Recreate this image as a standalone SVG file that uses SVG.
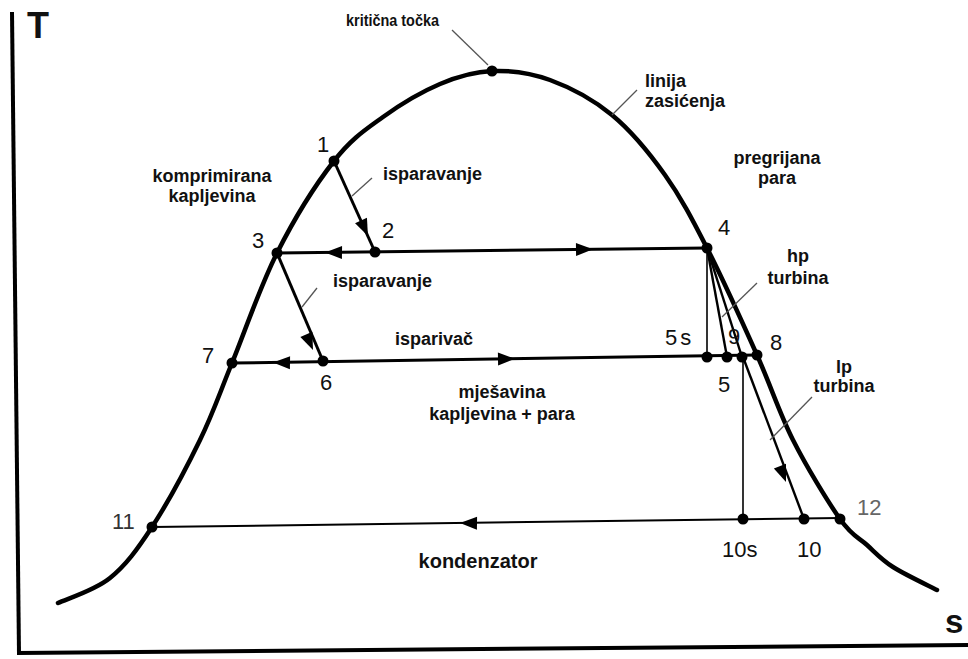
<svg xmlns="http://www.w3.org/2000/svg" width="968" height="659" viewBox="0 0 968 659">
<style>
.lbl{font-family:"Liberation Sans",Arial,sans-serif;font-weight:bold;font-size:18px;fill:#111}
.num{font-family:"Liberation Sans",Arial,sans-serif;font-size:22px;fill:#111}
.ax{font-family:"Liberation Sans",Arial,sans-serif;font-weight:bold;fill:#111}
.sat{fill:none;stroke:#000;stroke-width:4.5;stroke-linecap:round;stroke-linejoin:round}
.proc{fill:none;stroke:#000;stroke-width:3}
.exp{fill:none;stroke:#000;stroke-width:2.4}
.thin{fill:none;stroke:#000;stroke-width:1.6}
.lead{fill:none;stroke:#555;stroke-width:1.3}
.dot{fill:#000}
</style>
<defs>
<path id="arr" d="M0,0 L-17,-6.5 L-17,6.5 Z" fill="#000"/>
</defs>
<rect width="968" height="659" fill="#fff"/>
<g id="axes">
<path d="M12,12 L19,654" fill="none" stroke="#000" stroke-width="4"/>
<path d="M17,653 L968,645" fill="none" stroke="#000" stroke-width="4"/>
<text class="ax" x="27" y="38" style="font-size:36px">T</text>
<text class="ax" x="945" y="633" style="font-size:33px">s</text>
</g>
<g id="saturation-line">
<path class="sat" d="M58,603 C66.7,598.8 94.3,590.7 110,578 C125.7,565.3 137,550 152,527 C167,504 186.7,467.3 200,440 C213.3,412.7 219.2,394.2 232,363 C244.8,331.8 260,286.7 277,253 C294,219.3 316.3,183.7 334,161 C351.7,138.3 365.3,129.8 383,117 C400.7,104.2 421.8,91.7 440,84 C458.2,76.3 473.7,71.7 492,71 C510.3,70.3 530,72.7 550,80 C570,87.3 592.8,99.2 612,115 C631.2,130.8 649.2,152.8 665,175 C680.8,197.2 691.7,218 707,248 C722.3,278 742.7,323 757,355 C771.3,387 779.2,412.7 793,440 C806.8,467.3 827.7,501.5 840,519 C852.3,536.5 858.2,537 867,545 C875.8,553 881.3,559.5 893,567 C904.7,574.5 929.7,586.2 937,590"/>
</g>
<g id="connectors">
<path class="proc" d="M334,161 L375,252"/>
<path class="proc" d="M277,253 L707,248"/>
<path class="proc" d="M277,253 L323,361"/>
<path class="proc" d="M232,363 L757,355"/>
<path class="exp" d="M707,248 L727,357"/>
<path class="exp" d="M707,248 L742,357"/>
<path class="exp" d="M743,357 L804,519"/>
<path class="thin" d="M707,248 L707,357"/>
<path class="thin" d="M743,357 L743,519"/>
<path fill="none" stroke="#000" stroke-width="2" d="M152,527 L840,518"/>
<use href="#arr" transform="translate(368,236) rotate(65.7)"/>
<use href="#arr" transform="translate(313,350) rotate(66.9)"/>
<use href="#arr" transform="translate(325,252.4) rotate(180.7)"/>
<use href="#arr" transform="translate(593,249.3) rotate(-0.7)"/>
<use href="#arr" transform="translate(273,362.4) rotate(180.9)"/>
<use href="#arr" transform="translate(515,358.7) rotate(-0.9)"/>
<use href="#arr" transform="translate(460,523) rotate(180.7)"/>
<use href="#arr" transform="translate(786,482) rotate(69.1)"/>
<path class="lead" d="M452,30 L488,65"/>
<path class="lead" d="M612,115 L637,90"/>
<path class="lead" d="M372,178 L352,196"/>
<path class="lead" d="M317,288 L302,307"/>
<path class="lead" d="M757,283 L722,317"/>
<path class="lead" d="M812,397 L770,440"/>
</g>
<g id="critical-point">
<circle class="dot" cx="492" cy="71" r="5.5"/>
<text class="lbl" x="346" y="26" textLength="93" lengthAdjust="spacingAndGlyphs" style="font-size:17px">kritična točka</text>
</g>
<g id="label-saturation">
<text class="lbl" x="645" y="87">linija</text>
<text class="lbl" x="645" y="107">zasićenja</text>
</g>
<g id="label-compressed">
<text class="lbl" x="212" y="182" text-anchor="middle">komprimirana</text>
<text class="lbl" x="212" y="202" text-anchor="middle">kapljevina</text>
</g>
<g id="label-superheated">
<text class="lbl" x="777" y="164" text-anchor="middle">pregrijana</text>
<text class="lbl" x="777" y="184" text-anchor="middle">para</text>
</g>
<g id="label-evap1"><text class="lbl" x="383" y="180">isparavanje</text></g>
<g id="label-evap2"><text class="lbl" x="333" y="287">isparavanje</text></g>
<g id="label-hp">
<text class="lbl" x="798" y="262" text-anchor="middle">hp</text>
<text class="lbl" x="798" y="284" text-anchor="middle">turbina</text>
</g>
<g id="label-lp">
<text class="lbl" x="844" y="373" text-anchor="middle">lp</text>
<text class="lbl" x="844" y="392" text-anchor="middle">turbina</text>
</g>
<g id="label-isparivac"><text class="lbl" x="395" y="345">isparivač</text></g>
<g id="label-mixture">
<text class="lbl" x="502" y="398" text-anchor="middle">mješavina</text>
<text class="lbl" x="502" y="420" text-anchor="middle">kapljevina + para</text>
</g>
<g id="label-condenser"><text class="lbl" x="478" y="568" text-anchor="middle" style="font-size:20px">kondenzator</text></g>
<g id="p1"><circle class="dot" cx="334" cy="161" r="5.5"/><text class="num" x="317" y="152">1</text></g>
<g id="p2"><circle class="dot" cx="375" cy="252" r="5.5"/><text class="num" x="382" y="238">2</text></g>
<g id="p3"><circle class="dot" cx="277" cy="253" r="5.5"/><text class="num" x="252" y="248">3</text></g>
<g id="p4"><circle class="dot" cx="707" cy="248" r="5.5"/><text class="num" x="718" y="235">4</text></g>
<g id="p5s"><circle class="dot" cx="707" cy="357" r="5.5"/><text class="num" x="665" y="345" letter-spacing="3">5s</text></g>
<g id="p5"><circle class="dot" cx="727" cy="357" r="5.5"/><text class="num" x="718" y="392">5</text></g>
<g id="p9"><circle class="dot" cx="742" cy="357" r="5.5"/><text class="num" x="728" y="344">9</text></g>
<g id="p8"><circle class="dot" cx="757" cy="355" r="5.5"/><text class="num" x="770" y="350">8</text></g>
<g id="p6"><circle class="dot" cx="323" cy="361" r="5.5"/><text class="num" x="320" y="390">6</text></g>
<g id="p7"><circle class="dot" cx="232" cy="363" r="5.5"/><text class="num" x="202" y="363">7</text></g>
<g id="p10s"><circle class="dot" cx="743" cy="519" r="5.5"/><text class="num" x="722" y="557">10s</text></g>
<g id="p10"><circle class="dot" cx="804" cy="519" r="5.5"/><text class="num" x="797" y="557">10</text></g>
<g id="p11"><circle class="dot" cx="152" cy="527" r="5.5"/><text class="num" x="112" y="529" style="fill:#333">11</text></g>
<g id="p12"><circle class="dot" cx="840" cy="519" r="5.5"/><text class="num" x="857" y="515" style="fill:#666">12</text></g>
</svg>
